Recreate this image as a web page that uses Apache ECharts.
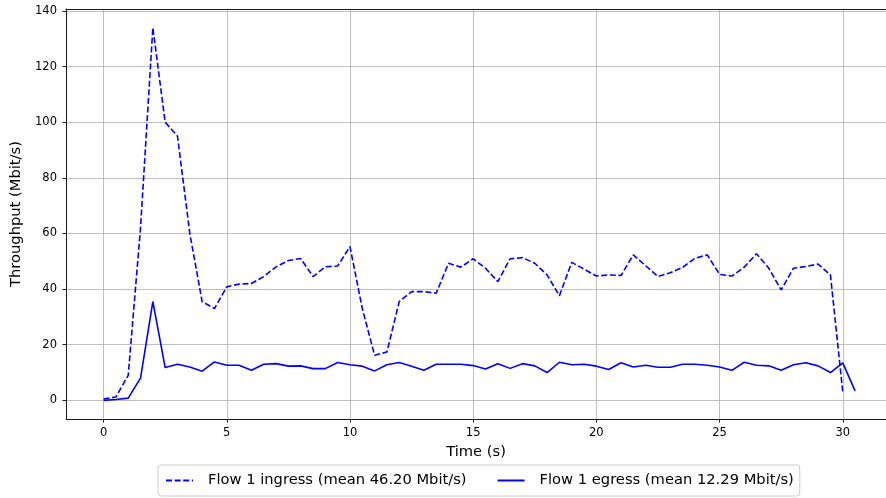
<!DOCTYPE html>
<html>
<head>
<meta charset="utf-8">
<script src="https://cdn.jsdelivr.net/npm/echarts@6/dist/echarts.min.js"></script>
<style>
html,body{margin:0;padding:0;background:#fff;}
#chart{width:886px;height:498px;}
</style>
</head>
<body>
<div id="chart"></div>
<script>
// Time stamps (s)
const ingressTimes = [0,0.5,1,1.5,2,2.5,3,3.5,4,4.5,5,5.5,6,6.5,7,7.5,8,8.5,9,9.5,10,10.5,11,11.5,12,12.5,13,13.5,14,14.5,15,15.5,16,16.5,17,17.5,18,18.5,19,19.5,20,20.5,21,21.5,22,22.5,23,23.5,24,24.5,25,25.5,26,26.5,27,27.5,28,28.5,29,29.5,30];
const ingressValues = [0.5,1.2,9,62,134,100,95,60,35.5,33,40.8,41.8,42,44.5,48,50.3,51,44.5,48,48.3,55.3,33,16.2,17.4,35.5,39.1,39.1,38.5,49.3,47.9,50.9,47.5,42.7,50.9,51.3,49.3,45.1,37.6,49.6,47.2,44.7,45.1,44.9,52.3,48.4,44.5,45.9,47.8,51.1,52.3,45.3,44.7,47.9,52.7,47.5,39.7,47.5,48.1,49,45.1,3.0];
const egressTimes = [0,0.5,1,1.5,2,2.5,3,3.5,4,4.5,5,5.5,6,6.5,7,7.5,8,8.5,9,9.5,10,10.5,11,11.5,12,12.5,13,13.5,14,14.5,15,15.5,16,16.5,17,17.5,18,18.5,19,19.5,20,20.5,21,21.5,22,22.5,23,23.5,24,24.5,25,25.5,26,26.5,27,27.5,28,28.5,29,29.5,30,30.5];
const egressValues = [0,0.3,0.8,8,35.5,11.8,13,12,10.5,13.8,12.6,12.6,10.8,13,13.2,12.3,12.4,11.4,11.4,13.6,12.8,12.3,10.6,12.8,13.6,12.3,10.8,13,13,13,12.5,11.3,13.2,11.5,13.2,12.4,10,13.7,12.8,13,12.3,11.1,13.5,12,12.6,11.9,11.9,13,13,12.6,12,10.8,13.7,12.6,12.4,10.8,12.8,13.5,12.4,10,13.5,3.4];
const seriesNames = ['Flow 1 ingress (mean 46.20 Mbit/s)', 'Flow 1 egress (mean 12.29 Mbit/s)'];
const xTicks = [0,5,10,15,20,25,30];
const yTicks = [0,20,40,60,80,100,120,140];

const pair = (ts, vs) => ts.map((t, i) => [t, vs[i]]);
const FONT = 'DejaVu Sans';
const SPINE = '#1a1a1a';
const chart = echarts.init(document.getElementById('chart'), null, {renderer: 'canvas'});
chart.setOption({
  animation: false,
  backgroundColor: '#ffffff',
  grid: {left: 66, right: 0, top: 9, bottom: 79, show: false},
  xAxis: [{
    type: 'value', min: -1.525, max: 31.755, position: 'bottom',
    name: 'Time (s)', nameLocation: 'middle', nameGap: 26,
    nameTextStyle: {fontFamily: FONT, fontSize: 14.7, color: '#000'},
    axisLine: {show: true, onZero: false, lineStyle: {color: SPINE, width: 1}},
    axisTick: {show: true, inside: false, length: 3.5, customValues: xTicks, lineStyle: {color: SPINE, width: 1}},
    axisLabel: {customValues: xTicks, fontFamily: FONT, fontSize: 11.5, color: '#000', margin: 8},
    splitLine: {show: true, lineStyle: {color: '#b0b0b0', width: 0.8}}
  }, {
    type: 'value', min: -1.525, max: 31.755, position: 'top',
    axisLine: {show: true, onZero: false, lineStyle: {color: SPINE, width: 1}},
    axisTick: {show: false}, axisLabel: {show: false}, splitLine: {show: false}
  }],
  yAxis: {
    type: 'value', min: -6.7, max: 140.7,
    name: 'Throughput (Mbit/s)', nameLocation: 'middle', nameGap: 36,
    nameTextStyle: {fontFamily: FONT, fontSize: 14.7, color: '#000'},
    axisLine: {show: true, onZero: false, lineStyle: {color: SPINE, width: 1}},
    axisTick: {show: true, inside: false, length: 3.5, customValues: yTicks, lineStyle: {color: SPINE, width: 1}},
    axisLabel: {customValues: yTicks, fontFamily: FONT, fontSize: 11.5, color: '#000', margin: 9},
    splitLine: {show: true, lineStyle: {color: '#b0b0b0', width: 0.8}}
  },
  legend: {
    left: 158, top: 465,
    padding: [8, 6, 8, 7],
    itemWidth: 27, itemHeight: 14, itemGap: 30,
    borderColor: '#cccccc', borderWidth: 1, borderRadius: 3,
    itemStyle: {opacity: 0},
    textStyle: {fontFamily: FONT, fontSize: 14.7, color: '#000', padding: [0, 0, 0, 10]},
    data: seriesNames
  },
  series: [
    {
      name: seriesNames[0], type: 'line', data: pair(ingressTimes, ingressValues),
      symbol: 'none', showSymbol: false,
      lineStyle: {color: '#0000ff', width: 1.6, type: [6, 2.6]},
      itemStyle: {color: '#0000ff'}
    },
    {
      name: seriesNames[1], type: 'line', data: pair(egressTimes, egressValues),
      symbol: 'none', showSymbol: false,
      lineStyle: {color: '#0000ff', width: 1.6, type: 'solid'},
      itemStyle: {color: '#0000ff'}
    }
  ]
});
</script>
</body>
</html>
